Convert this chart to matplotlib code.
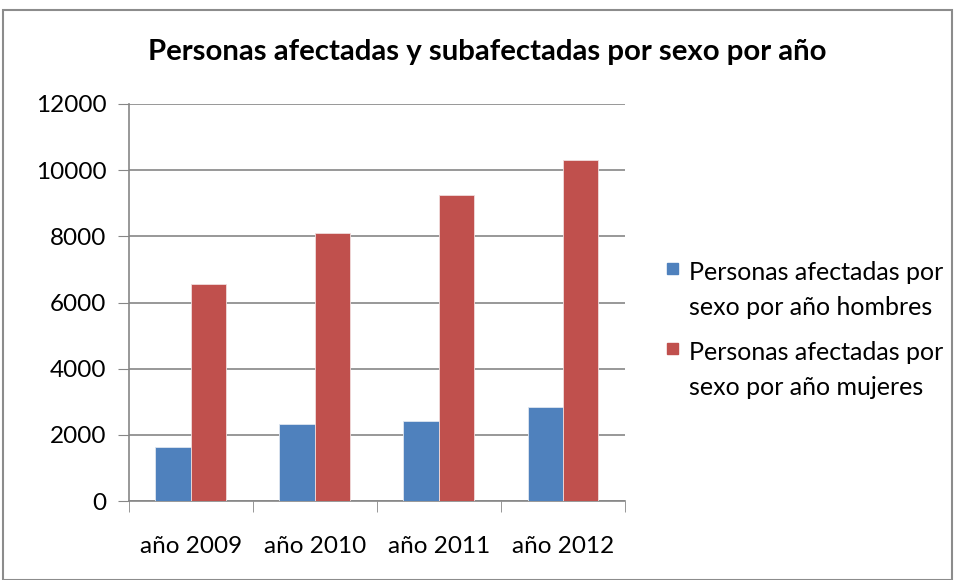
import numpy as np
import matplotlib.pyplot as plt
from matplotlib.patches import Rectangle

# data
categorias = ['año 2009', 'año 2010', 'año 2011', 'año 2012']
hombres = [1630, 2340, 2410, 2830]
mujeres = [6560, 8100, 9240, 10320]
etiquetas = ['Personas afectadas por\nsexo por año hombres',
             'Personas afectadas por\nsexo por año mujeres']
colores = ['#4F81BD', '#C0504D']

plt.rcParams['font.family'] = ['Lato', 'DejaVu Sans']

fig = plt.figure(figsize=(9.55, 5.8), dpi=100)
W, H = 955, 580
ax = fig.add_axes([128.7 / W, 1 - 501 / H, (625 - 128.7) / W, (501 - 104) / H])

# chart border
fig.patches.append(Rectangle((3 / W, 0), 949 / W, 1 - 10 / H, transform=fig.transFigure,
                             fill=False, edgecolor='#8c8c8c', linewidth=1.5))

x = np.arange(len(categorias))
w = 0.2857
ax.bar(x - w / 2, hombres, w, color=colores[0], edgecolor='#dfe6f0', linewidth=0.6, zorder=3)
ax.bar(x + w / 2, mujeres, w, color=colores[1], edgecolor='#f0dcdc', linewidth=0.6, zorder=3)

ax.set_xlim(-0.5, 3.5)
ax.set_ylim(0, 12000)
ax.set_yticks(range(0, 12001, 2000))
ax.tick_params(axis='y', length=8, color='#868686', labelsize=17.5, pad=8)
ax.grid(axis='y', color='#868686', linewidth=1.2, zorder=0)

ax.set_xticks(x)
ax.set_xticklabels(categorias, fontsize=17.5)
ax.set_xticks(np.arange(-0.5, 4, 1), minor=True)
ax.tick_params(axis='x', which='major', length=0, pad=25)
ax.tick_params(axis='x', which='minor', length=8, color='#868686')

for s in ['top', 'right']:
    ax.spines[s].set_visible(False)
for s in ['left', 'bottom']:
    ax.spines[s].set_color('#868686')
    ax.spines[s].set_linewidth(1.2)

fig.text(487 / W, 1 - 52 / H, 'Personas afectadas y subafectadas por sexo por año',
         ha='center', va='center', fontsize=21.2, fontweight='bold')

# legend, square next to first line of each entry
for i, (lab, col) in enumerate(zip(etiquetas, colores)):
    y0 = 263 + 80 * i
    fig.patches.append(Rectangle((667 / W, 1 - (y0 + 11) / H), 11 / W, 11 / H,
                                 transform=fig.transFigure, color=col))
    fig.text(689 / W, 1 - (y0 - 2) / H, lab, ha='left', va='top',
             fontsize=18, linespacing=1.62)

fig.savefig('out.png', dpi=100)
